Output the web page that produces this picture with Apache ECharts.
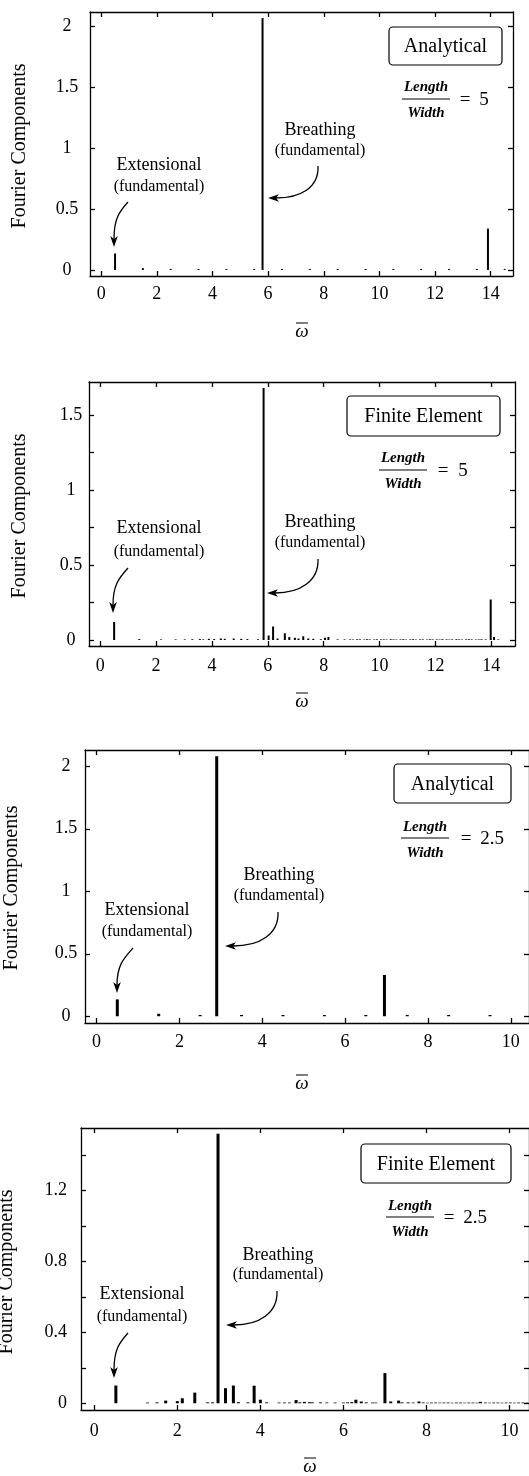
<!DOCTYPE html>
<html>
<head>
<meta charset="utf-8">
<script src="https://cdn.jsdelivr.net/npm/echarts@6/dist/echarts.min.js"></script>
<style>
html,body{margin:0;padding:0;background:#fff;}
#chart{width:529px;height:1476px;}
</style>
</head>
<body>
<div id="chart"></div>
<script>
// ---- Fourier spectra: analytical vs finite element, two aspect ratios ----

// Analytical, Length/Width = 5
const omegaA5 = [0.5, 1.5, 2.5, 3.5, 4.5, 5.5, 5.8, 6.5, 7.5, 8.5, 9.5, 10.5, 11.5, 12.5, 13.5, 13.9, 14.5];
const ampA5   = [0.135, 0.015, 0.008, 0.008, 0.008, 0.008, 2.07, 0.008, 0.008, 0.008, 0.008, 0.008, 0.008, 0.008, 0.008, 0.34, 0.008];

// Finite element, Length/Width = 5
const omegaF5 = [0.5, 1.4, 2.18, 2.7, 3.03, 3.3, 3.57, 3.69, 3.89, 4.08, 4.32, 4.46, 4.78, 5.05, 5.27, 5.65,
  5.85, 6.03, 6.19, 6.35, 6.61, 6.77, 6.97, 7.1, 7.27, 7.45, 7.63, 7.9, 8.05, 8.17, 8.5, 8.75,
  8.95, 9.05, 9.2, 9.3, 9.45, 9.55, 9.65, 9.8, 9.9, 10.05, 10.15, 10.25, 10.4, 10.5, 10.6, 10.75, 10.85, 10.95,
  11.1, 11.2, 11.3, 11.45, 11.55, 11.7, 11.8, 11.9, 12.05, 12.15, 12.25, 12.4, 12.5, 12.6, 12.75, 12.85, 12.95,
  13.1, 13.2, 13.3, 13.45, 13.55, 13.65, 13.8, 13.98, 14.1, 14.25];
const ampF5   = [0.12, 0.006, 0.004, 0.004, 0.004, 0.005, 0.006, 0.004, 0.008, 0.006, 0.01, 0.008, 0.01, 0.008, 0.006, 0.005,
  1.68, 0.03, 0.09, 0.01, 0.045, 0.02, 0.015, 0.01, 0.025, 0.01, 0.008, 0.005, 0.015, 0.02, 0.004, 0.004,
  0.004, 0.003, 0.005, 0.004, 0.003, 0.005, 0.004, 0.003, 0.005, 0.004, 0.004, 0.003, 0.005, 0.004, 0.003, 0.004, 0.005, 0.003,
  0.004, 0.005, 0.003, 0.004, 0.004, 0.003, 0.005, 0.004, 0.004, 0.003, 0.005, 0.004, 0.003, 0.004, 0.005, 0.004, 0.003,
  0.004, 0.005, 0.004, 0.003, 0.004, 0.005, 0.004, 0.27, 0.02, 0.004];

// Analytical, Length/Width = 2.5
const omegaA25 = [0.5, 1.5, 2.5, 2.9, 3.5, 4.5, 5.5, 6.5, 6.95, 7.5, 8.5, 9.5];
const ampA25   = [0.135, 0.02, 0.01, 2.08, 0.01, 0.01, 0.01, 0.01, 0.33, 0.01, 0.01, 0.01];

// Finite element, Length/Width = 2.5
const omegaF25 = [0.52, 1.28, 1.51, 1.72, 2.0, 2.12, 2.42, 2.73, 2.85, 2.98, 3.16, 3.35, 3.47, 3.7, 3.85, 4.0, 4.15,
  4.45, 4.58, 4.7, 4.86, 4.95, 5.06, 5.18, 5.25, 5.45, 5.6, 5.8, 6.0, 6.1, 6.2, 6.3, 6.43, 6.55, 6.7, 6.78,
  7.0, 7.14, 7.33, 7.41, 7.56, 7.68, 7.82, 7.92, 8.02, 8.12, 8.22, 8.32, 8.42, 8.52, 8.62, 8.72, 8.82, 8.92,
  9.02, 9.12, 9.22, 9.3, 9.42, 9.52, 9.62, 9.72, 9.82, 9.92, 10.02, 10.12, 10.22, 10.32, 10.42];
const ampF25   = [0.10, 0.004, 0.005, 0.015, 0.012, 0.028, 0.06, 0.005, 0.005, 1.52, 0.085, 0.10, 0.006, 0.005, 0.099, 0.02, 0.005,
  0.004, 0.004, 0.004, 0.018, 0.005, 0.008, 0.006, 0.005, 0.005, 0.004, 0.004, 0.004, 0.005, 0.006, 0.02, 0.01, 0.005, 0.004, 0.004,
  0.17, 0.01, 0.015, 0.005, 0.005, 0.004, 0.01, 0.004, 0.003, 0.004, 0.004, 0.003, 0.004, 0.004, 0.003, 0.004, 0.004, 0.003,
  0.004, 0.004, 0.003, 0.008, 0.004, 0.003, 0.004, 0.004, 0.003, 0.004, 0.004, 0.003, 0.004, 0.004, 0.003];

// Tick positions and labels
const xTicks5  = [0, 2, 4, 6, 8, 10, 12, 14];
const xTicks25 = [0, 2, 4, 6, 8, 10];
const yLabelsA   = [0, 0.5, 1, 1.5, 2];
const yTicksF5   = [0, 0.25, 0.5, 0.75, 1, 1.25, 1.5];
const yLabelsF5  = [0, 0.5, 1, 1.5];
const yTicksF25  = [0, 0.2, 0.4, 0.6, 0.8, 1, 1.2, 1.4];
const yLabelsF25 = [0, 0.4, 0.8, 1.2];

const SERIF = '"Liberation Serif", "Times New Roman", serif';
const INK = '#000';

const panels = [
  { grid: {left: 90, top: 12, width: 423, height: 264}, x: [-0.4, 14.8], y: [-0.05, 2.12],
    xTicks: xTicks5, yTicks: yLabelsA, yLabels: yLabelsA, xMargin: 9, yMargin: 23, yAlign: 'center',
    omega: omegaA5, amp: ampA5, barW: 2 },
  { grid: {left: 89, top: 382, width: 426, height: 264}, x: [-0.4, 14.85], y: [-0.04, 1.72],
    xTicks: xTicks5, yTicks: yTicksF5, yLabels: yLabelsF5, xMargin: 11, yMargin: 18, yAlign: 'center',
    omega: omegaF5, amp: ampF5, barW: 2 },
  { grid: {left: 85, top: 750, width: 446, height: 273}, x: [-0.28, 10.44], y: [-0.054, 2.13],
    xTicks: xTicks25, yTicks: yLabelsA, yLabels: yLabelsA, xMargin: 10, yMargin: 19, yAlign: 'center',
    omega: omegaA25, amp: ampA25, barW: 3 },
  { grid: {left: 81, top: 1128, width: 454, height: 282}, x: [-0.32, 10.47], y: [-0.038, 1.552],
    xTicks: xTicks25, yTicks: yTicksF25, yLabels: yLabelsF25, xMargin: 12, yMargin: 14, yAlign: 'right',
    omega: omegaF25, amp: ampF25, barW: 3 }
];

const lineStyle = {color: INK, width: 1.3};
const grids = [], xAxes = [], yAxes = [], series = [];

panels.forEach((p, i) => {
  grids.push(Object.assign({containLabel: false}, p.grid));
  const labelStyle = {color: INK, fontFamily: SERIF, fontSize: 18};
  // bottom + top x axes
  xAxes.push({
    type: 'value', gridIndex: i, min: p.x[0], max: p.x[1], position: 'bottom',
    axisLine: {onZero: false, lineStyle},
    axisTick: {inside: true, length: 5, customValues: p.xTicks, lineStyle},
    axisLabel: Object.assign({customValues: p.xTicks, margin: p.xMargin}, labelStyle),
    splitLine: {show: false}
  });
  xAxes.push({
    type: 'value', gridIndex: i, min: p.x[0], max: p.x[1], position: 'top',
    axisLine: {onZero: false, lineStyle},
    axisTick: {inside: true, length: 5, customValues: p.xTicks, lineStyle},
    axisLabel: {show: false},
    splitLine: {show: false}
  });
  // left + right y axes
  yAxes.push({
    type: 'value', gridIndex: i, min: p.y[0], max: p.y[1], position: 'left',
    axisLine: {show: true, onZero: false, lineStyle},
    axisTick: {show: true, inside: true, length: 5, customValues: p.yTicks, lineStyle},
    axisLabel: Object.assign({customValues: p.yLabels, margin: p.yMargin, align: p.yAlign}, labelStyle),
    splitLine: {show: false}
  });
  yAxes.push({
    type: 'value', gridIndex: i, min: p.y[0], max: p.y[1], position: 'right',
    axisLine: {show: true, onZero: false, lineStyle},
    axisTick: {show: true, inside: true, length: 5, customValues: p.yTicks, lineStyle},
    axisLabel: {show: false},
    splitLine: {show: false}
  });
  series.push({
    type: 'bar', xAxisIndex: 2 * i, yAxisIndex: 2 * i,
    barWidth: p.barW, silent: true,
    itemStyle: {color: INK},
    data: p.omega.map((w, k) => [w, p.amp[k]])
  });
});

// ---- annotation helpers ----
const graphics = [];
function txt(s, x, y, size, opts) {
  graphics.push(Object.assign({
    type: 'text', x, y, silent: true,
    style: Object.assign({
      text: s, fill: INK, font: size + 'px ' + SERIF,
      align: 'center', verticalAlign: 'middle',
      textAlign: 'center', textVerticalAlign: 'middle'
    }, (opts && opts.style) || {})
  }, (opts && opts.el) || {}));
}
function arrowDown(sx, sy, tx, ty) {
  graphics.push({type: 'bezierCurve', silent: true,
    shape: {x1: sx, y1: sy, cpx1: sx - 9, cpy1: sy + 10, cpx2: tx, cpy2: ty - 28, x2: tx, y2: ty - 8},
    style: {stroke: INK, lineWidth: 1.3, fill: null}});
  graphics.push({type: 'polygon', silent: true,
    shape: {points: [[tx, ty], [tx - 3.8, ty - 11], [tx, ty - 8], [tx + 3.8, ty - 11]]},
    style: {fill: INK}});
}
function arrowLeft(sx, sy, tx, ty) {
  graphics.push({type: 'bezierCurve', silent: true,
    shape: {x1: sx, y1: sy, cpx1: sx + 1, cpy1: sy + 22, cpx2: sx - 18, cpy2: ty, x2: tx + 8, y2: ty},
    style: {stroke: INK, lineWidth: 1.3, fill: null}});
  graphics.push({type: 'polygon', silent: true,
    shape: {points: [[tx, ty], [tx + 11, ty - 3.8], [tx + 8, ty], [tx + 11, ty + 3.8]]},
    style: {fill: INK}});
}
function hline(x1, x2, y, w) {
  graphics.push({type: 'line', silent: true, shape: {x1, y1: y, x2, y2: y},
    style: {stroke: INK, lineWidth: w || 1}});
}
function boxLabel(s, x, y, w, h) {
  graphics.push({type: 'rect', silent: true, shape: {x, y, width: w, height: h, r: 4},
    style: {fill: '#fff', stroke: INK, lineWidth: 1.2}});
  txt(s, x + w / 2, y + h / 2 + 1, 20);
}
function ratio(cx, yL, yLine, yW, half, eqX, val, valX) {
  const italic = {style: {font: 'italic bold 15px ' + SERIF}};
  txt('Length', cx, yL, 15, italic);
  hline(cx - half, cx + half, yLine, 1);
  txt('Width', cx, yW, 15, italic);
  txt('=', eqX, yLine + 1, 19);
  txt(val, valX, yLine + 1, 19);
}
function omegaBar(cx, cy) {
  txt('ω', cx, cy, 19, {style: {font: 'italic 19px ' + SERIF}});
  hline(cx - 6, cx + 6, cy - 9, 1);
}
function yTitle(x, y) {
  txt('Fourier Components', x, y, 20, {el: {rotation: Math.PI / 2}});
}

// Panel 1 — analytical, L/W = 5
boxLabel('Analytical', 389, 27, 113, 38);
ratio(426, 87, 99, 113, 24, 465, '5', 484);
txt('Breathing', 320, 130, 18); txt('(fundamental)', 320, 151, 16);
arrowLeft(318, 166, 268, 198);
txt('Extensional', 159, 165, 18); txt('(fundamental)', 159, 187, 16);
arrowDown(128, 202, 114, 247);
yTitle(20, 146); omegaBar(302, 332);

// Panel 2 — finite element, L/W = 5
boxLabel('Finite Element', 347, 396, 153, 40);
ratio(403, 458, 470, 484, 24, 443, '5', 463);
txt('Breathing', 320, 522, 18); txt('(fundamental)', 320, 543, 16);
arrowLeft(318, 559, 267, 593);
txt('Extensional', 159, 528, 18); txt('(fundamental)', 159, 552, 16);
arrowDown(128, 568, 113, 613);
yTitle(20, 516); omegaBar(302, 702);

// Panel 3 — analytical, L/W = 2.5
boxLabel('Analytical', 394, 764, 117, 39);
ratio(425, 827, 838, 853, 24, 466, '2.5', 492);
txt('Breathing', 279, 875, 18); txt('(fundamental)', 279, 896, 16);
arrowLeft(278, 912, 225, 946);
txt('Extensional', 147, 910, 18); txt('(fundamental)', 147, 932, 16);
arrowDown(133, 948, 117, 993);
yTitle(12, 888); omegaBar(302, 1084);

// Panel 4 — finite element, L/W = 2.5
boxLabel('Finite Element', 361, 1144, 150, 39);
ratio(410, 1206, 1217, 1232, 24, 449, '2.5', 475);
txt('Breathing', 278, 1255, 18); txt('(fundamental)', 278, 1275, 16);
arrowLeft(277, 1291, 226, 1325);
txt('Extensional', 142, 1294, 18); txt('(fundamental)', 142, 1317, 16);
arrowDown(128, 1333, 114, 1378);
yTitle(7, 1272); omegaBar(310, 1467);

const chart = echarts.init(document.getElementById('chart'), null, {renderer: 'canvas'});
chart.setOption({
  animation: false,
  backgroundColor: '#fff',
  grid: grids,
  xAxis: xAxes,
  yAxis: yAxes,
  series: series,
  graphic: {elements: graphics}
});
</script>
</body>
</html>
